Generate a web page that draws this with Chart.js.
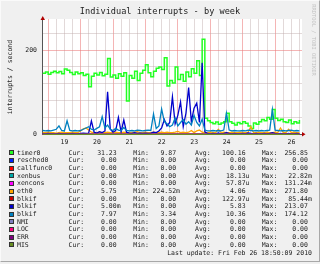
<!DOCTYPE html>
<html lang="en">
<head>
<meta charset="UTF-8">
<title>Individual interrupts - by week</title>
<script src="https://cdn.jsdelivr.net/npm/chart.js"></script>
<style>
  html, body { margin: 0; padding: 0; }
  body { width: 320px; height: 264px; overflow: hidden; background: #f0f0f0; }
  #graph { position: relative; width: 320px; height: 264px; background: #f0f0f0;
           font-family: 'DejaVu Sans Mono', monospace; color: #222; }
  #frame { position: absolute; left: 0; top: 0; width: 318px; height: 260px;
           border-left: 1px solid #fafafa; border-top: 1px solid #fafafa;
           border-right: 1px solid #a8a8a8; border-bottom: 1px solid #a8a8a8; }
  #plotBox { position: absolute; left: 0; top: 0; width: 320px; height: 150px; }
  .txt { position: absolute; white-space: pre; font-size: 6.5px; line-height: 8px; }
  .r { text-align: right; }
  .box { position: absolute; width: 3px; height: 3px; border: 1px solid #333; }
</style>
</head>
<body>
<div id="graph">
  <div id="frame"></div>
  <div id="plotBox"><canvas id="plot"></canvas></div>
  <div class="txt" style="left:0;width:320px;top:6px;font-size:8.6px;line-height:10px;text-align:center;">Individual interrupts - by week</div>
  <div class="txt" style="left:-29px;top:73px;width:78px;text-align:center;transform:rotate(-90deg);">interrupts / second</div>
  <div class="txt" style="left:278px;top:37px;width:72px;font-size:5.4px;line-height:6px;color:#c4c4c4;text-align:center;transform:rotate(90deg);">RRDTOOL / TOBI OETIKER</div>
  <div id="legend"></div>
</div>

<script>
// time axis: 2 hour samples, day numbers of Feb 2010
const timeStart = 18.83;
const timeStep = 1 / 12;

const seriesNames = ['timer0', 'resched0', 'callfunc0', 'xenbus', 'xencons', 'eth0',
                     'blkif', 'blkif', 'blkif', 'NMI', 'LOC', 'ERR', 'MIS'];
const seriesColors = ['#22ff22', '#0022ff', '#ff0000', '#00aaaa', '#ff00ff', '#ffa500',
                      '#cc0000', '#0000cc', '#0080c0', '#8080c0', '#ff0080', '#800080', '#688e23'];

const timer0 = [
  145,148,143,147,150,146,149,144,155,152,
  147,142,148,144,146,140,143,113,138,145,
  141,147,139,143,180,136,141,133,144,138,
  146,79,140,133,150,128,145,152,165,146,
  137,150,157,160,154,182,115,128,122,160,
  130,142,126,148,137,156,145,175,140,226,
  38,32,28,25,29,24,27,30,50,30,
  26,22,28,25,30,26,20,14,27,24,
  30,35,32,40,36,59,38,33,36,30,
  28,34,25,30,27,34
];
const eth0 = [
  4,4,5,4,4,3,4,5,4,4,
  4,5,4,4,8,13,15,10,5,4,
  4,5,4,4,5,4,4,5,4,4,
  5,4,4,4,5,6,4,4,5,4,
  4,5,4,4,5,4,5,4,4,5,
  7,4,5,4,5,9,4,8,10,5,
  4,4,5,4,4,12,4,5,4,4,
  5,4,4,5,4,4,5,18,4,4,
  5,4,4,5,4,4,5,4,15,4,
  4,12,4,5,4,4
];
const blkifDark = [
  1,1,2,1,1,1,2,1,1,1,
  1,2,1,1,2,3,2,3,32,5,
  3,6,4,8,101,12,5,9,40,6,
  34,5,3,2,4,2,3,2,3,2,
  3,5,4,8,15,35,20,28,89,25,
  45,77,18,50,111,30,62,74,28,170,
  6,2,1,2,1,3,1,2,4,2,
  1,2,1,1,2,1,3,2,1,2,
  1,1,2,1,2,4,2,1,2,1,
  1,2,1,1,2,1
];
const blkifLight = [
  9,8,9,8,10,12,20,9,8,32,
  9,8,9,8,9,12,15,18,12,10,
  14,18,42,15,22,12,9,14,10,9,
  16,9,8,9,8,10,9,8,9,10,
  9,48,14,20,60,30,25,18,22,39,
  20,28,35,24,30,22,45,28,20,36,
  10,8,8,9,8,9,8,10,50,10,
  8,9,8,8,9,8,10,9,8,9,
  8,9,8,9,10,59,10,9,8,9,
  8,9,10,8,9,8
];
// all the other counters stay at 0.00
const flatZero = Array(timer0.length).fill(0);

const seriesValues = [timer0, flatZero, flatZero, flatZero, flatZero, eth0,
                      flatZero, blkifDark, blkifLight, flatZero, flatZero, flatZero, flatZero];

const legendCur = ['31.23', '0.00', '0.00', '0.00', '0.00', '5.75', '0.00', '5.00m', '7.97', '0.00', '0.00', '0.00', '0.00'];
const legendMin = ['9.87', '0.00', '0.00', '0.00', '0.00', '224.52m', '0.00', '0.00', '3.34', '0.00', '0.00', '0.00', '0.00'];
const legendAvg = ['100.16', '0.00', '0.00', '18.13u', '57.87u', '4.06', '122.97u', '5.83', '10.36', '0.00', '0.00', '0.00', '0.00'];
const legendMax = ['256.85', '0.00', '0.00', '22.82m', '131.24m', '271.80', '85.44m', '213.07', '174.12', '0.00', '0.00', '0.00', '0.00'];
const lastUpdate = 'Last update: Fri Feb 26 18:50:09 2010';

// legend rows under the plot
const legend = document.getElementById('legend');
function addText(str, left, top, right) {
  const d = document.createElement('div');
  d.className = 'txt' + (right ? ' r' : '');
  d.textContent = str;
  d.style.top = top + 'px';
  if (right) { d.style.left = (left - 200) + 'px'; d.style.width = '200px'; }
  else d.style.left = left + 'px';
  legend.appendChild(d);
}
const pad = s => /\d$/.test(s) ? s + ' ' : s;
seriesNames.forEach((name, i) => {
  const cy = 152.7 + i * 7.67;
  const top = cy - 4;
  const b = document.createElement('div');
  b.className = 'box';
  b.style.left = '9px';
  b.style.top = (cy - 2.5) + 'px';
  b.style.background = seriesColors[i];
  legend.appendChild(b);
  addText(name, 17, top);
  addText('Cur:', 68.5, top);
  addText(pad(legendCur[i]), 120.6, top, true);
  addText('Min:', 133.3, top);
  addText(pad(legendMin[i]), 180, top, true);
  addText('Avg:', 195, top);
  addText(pad(legendAvg[i]), 249.5, top, true);
  addText('Max:', 261.7, top);
  addText(pad(legendMax[i]), 311.8, top, true);
});
addText(lastUpdate, 312, 248.5, true);

const plotBg = {
  id: 'plotBg',
  beforeDraw(chart) {
    const { ctx, chartArea: a } = chart;
    ctx.save();
    ctx.fillStyle = '#ffffff';
    ctx.fillRect(a.left, a.top, a.right - a.left, a.bottom - a.top);
    ctx.restore();
  }
};
const arrows = {
  id: 'arrows',
  afterDraw(chart) {
    const { ctx, chartArea: a } = chart;
    ctx.save();
    ctx.fillStyle = '#b00000';
    ctx.beginPath();
    ctx.moveTo(a.left - 2, a.top + 1);
    ctx.lineTo(a.left + 2.5, a.top + 1);
    ctx.lineTo(a.left + 0.25, a.top - 3);
    ctx.fill();
    ctx.beginPath();
    ctx.moveTo(a.right, a.bottom - 2.2);
    ctx.lineTo(a.right, a.bottom + 2.2);
    ctx.lineTo(a.right + 3.5, a.bottom);
    ctx.fill();
    ctx.restore();
  }
};

const tickFont = { family: 'DejaVu Sans Mono', size: 6.5 };
const minorGrid = 'rgba(190,170,170,0.45)';
const majorGrid = 'rgba(235,120,120,0.55)';

new Chart(document.getElementById('plot'), {
  type: 'line',
  data: {
    datasets: seriesNames.map((name, i) => ({
      label: name,
      data: seriesValues[i].map((v, k) => ({ x: timeStart + k * timeStep, y: v })),
      borderColor: seriesColors[i],
      backgroundColor: seriesColors[i],
      borderWidth: i === 0 ? 1.5 : 1.3,
      pointRadius: 0,
      stepped: i === 0,
      fill: false,
      clip: 2,
      order: -i
    }))
  },
  options: {
    responsive: true,
    maintainAspectRatio: false,
    animation: false,
    devicePixelRatio: 1,
    layout: { padding: { top: 19, right: 18, left: 0, bottom: 0 } },
    plugins: { legend: { display: false }, tooltip: { enabled: false } },
    scales: {
      x: {
        type: 'linear',
        min: 18.822,
        max: 26.827,
        afterBuildTicks: s => {
          s.ticks = [];
          for (let k = 0; k < 32; k++) s.ticks.push({ value: 19 + k * 0.25 });
        },
        afterFit: s => { s.height = 15.7; },
        grid: {
          drawTicks: false,
          color: c => (c.tick && c.tick.value % 1 === 0) ? majorGrid : minorGrid
        },
        border: { color: '#555', width: 1 },
        ticks: {
          autoSkip: false,
          maxRotation: 0,
          padding: 4,
          font: tickFont,
          color: '#222',
          callback: v => (v % 1 === 0.5) ? String(Math.floor(v)) : ''
        }
      },
      y: {
        min: 0,
        max: 274,
        afterBuildTicks: s => {
          s.ticks = [];
          for (let v = 0; v <= 260; v += 20) s.ticks.push({ value: v });
        },
        afterFit: s => { s.width = 42.5; },
        grid: {
          drawTicks: false,
          color: c => (c.tick && c.tick.value % 100 === 0) ? majorGrid : minorGrid
        },
        border: { color: '#555', width: 1 },
        ticks: {
          padding: 5.5,
          font: tickFont,
          color: '#222',
          callback: v => (v % 100 === 0) ? String(v) : ''
        }
      }
    }
  },
  plugins: [plotBg, arrows]
});
</script>
</body>
</html>
